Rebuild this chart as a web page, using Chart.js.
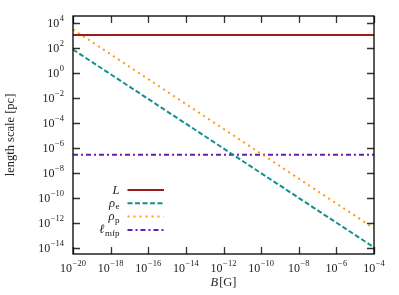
<!DOCTYPE html>
<html>
<head>
<meta charset="utf-8">
<script src="https://cdn.jsdelivr.net/npm/chart.js@4"></script>
<style>
  body { margin: 0; background: #fff; }
  #wrap { width: 399px; height: 295px; }
</style>
</head>
<body>
<div id="wrap"><canvas id="chart" width="399" height="295"></canvas></div>
<script>
// values (log-log, B in gauss, lengths in pc)
const bField = [1e-20, 1e-4];
const scaleL = [1.1e3, 1.1e3];
const rhoE = [75, 1.2e-14];
const rhoP = [3000, 4e-13];
const mfp = [3e-7, 3e-7];
const xTickExps = [-20, -18, -16, -14, -12, -10, -8, -6, -4];
const yTickExps = [4, 2, 0, -2, -4, -6, -8, -10, -12, -14];

const SERIF = '"Liberation Serif", "DejaVu Serif", serif';

const series = [
  { name: 'L', sub: '', values: scaleL, color: '#9b1c1c', dash: [] },
  { name: 'ρ', sub: 'e', values: rhoE, color: '#14908e', dash: [5, 2.5] },
  { name: 'ρ', sub: 'p', values: rhoP, color: '#ff9a14', dash: [2, 4] },
  { name: 'ℓ', sub: 'mfp', values: mfp, color: '#6a1cb4', dash: [5, 3, 2, 3] },
];

const toPoints = (vals) => bField.map((b, i) => ({ x: b, y: vals[i] }));

const drawPow = (ctx, exp, x, y, align) => {
  const base = '10';
  const sup = exp < 0 ? '\u2212' + Math.abs(exp) : String(exp);
  ctx.font = `12px ${SERIF}`;
  const wb = ctx.measureText(base).width;
  ctx.font = `8.5px ${SERIF}`;
  const ws = ctx.measureText(sup).width;
  const total = wb + ws + 0.5;
  let left = x;
  if (align === 'center') left = x - total / 2;
  if (align === 'right') left = x - total;
  ctx.textAlign = 'left';
  ctx.textBaseline = 'alphabetic';
  ctx.font = `12px ${SERIF}`;
  ctx.fillText(base, left, y);
  ctx.font = `8.5px ${SERIF}`;
  ctx.fillText(sup, left + wb + 0.5, y - 6);
};

const decorations = {
  id: 'decorations',
  afterDraw(chart) {
    const { ctx, chartArea: a, scales } = chart;
    const tick = 7;
    ctx.save();
    ctx.fillStyle = '#222';

    // tick marks, inward on all four sides
    ctx.strokeStyle = '#333';
    ctx.lineWidth = 1.3;
    ctx.beginPath();
    xTickExps.forEach((e) => {
      const px = Math.round(scales.x.getPixelForValue(10 ** e)) + 0.5;
      ctx.moveTo(px, a.bottom); ctx.lineTo(px, a.bottom - tick);
      ctx.moveTo(px, a.top); ctx.lineTo(px, a.top + tick);
    });
    yTickExps.forEach((e) => {
      const py = Math.round(scales.y.getPixelForValue(10 ** e)) + 0.5;
      ctx.moveTo(a.left, py); ctx.lineTo(a.left + tick, py);
      ctx.moveTo(a.right, py); ctx.lineTo(a.right - tick, py);
    });
    ctx.stroke();

    // frame
    ctx.strokeStyle = '#000';
    ctx.lineWidth = 1.3;
    ctx.strokeRect(a.left, a.top, a.right - a.left, a.bottom - a.top);

    // tick labels
    xTickExps.forEach((e) => {
      drawPow(ctx, e, scales.x.getPixelForValue(10 ** e), a.bottom + 17.5, 'center');
    });
    yTickExps.forEach((e) => {
      drawPow(ctx, e, a.left - 9, scales.y.getPixelForValue(10 ** e) + 4, 'right');
    });

    // axis titles
    ctx.font = `12.5px ${SERIF}`;
    ctx.textAlign = 'center';
    ctx.textBaseline = 'middle';
    ctx.save();
    ctx.translate(11, (a.top + a.bottom) / 2);
    ctx.rotate(-Math.PI / 2);
    ctx.fillText('length scale [pc]', 0, 0);
    ctx.restore();

    const cx = (a.left + a.right) / 2;
    ctx.textBaseline = 'alphabetic';
    ctx.textAlign = 'left';
    ctx.font = `italic 12.5px ${SERIF}`;
    const wB = ctx.measureText('B').width;
    ctx.font = `12.5px ${SERIF}`;
    const wG = ctx.measureText('[G]').width;
    const bx = cx - (wB + wG + 1) / 2;
    ctx.font = `italic 12.5px ${SERIF}`;
    ctx.fillText('B', bx, 286);
    ctx.font = `12.5px ${SERIF}`;
    ctx.fillText('[G]', bx + wB + 1, 286);

    // legend
    const textRight = a.left + 46.5;
    const x0 = a.left + 54.5;
    const x1 = a.left + 91;
    series.forEach((s, i) => {
      const y = a.top + 173.5 + i * 13.3;
      ctx.font = `9px ${SERIF}`;
      const wsub = s.sub ? ctx.measureText(s.sub).width : 0;
      ctx.font = `italic 12.5px ${SERIF}`;
      const wn = ctx.measureText(s.name).width;
      const left = textRight - wn - wsub - (s.sub ? 0.5 : 0);
      ctx.fillStyle = '#222';
      ctx.textAlign = 'left';
      ctx.fillText(s.name, left, y + 4);
      if (s.sub) {
        ctx.font = `9px ${SERIF}`;
        ctx.fillText(s.sub, left + wn + 0.5, y + 6.5);
      }
      ctx.strokeStyle = s.color;
      ctx.lineWidth = 2;
      ctx.setLineDash(s.dash);
      ctx.beginPath();
      ctx.moveTo(x0, y + 0.5);
      ctx.lineTo(x1, y + 0.5);
      ctx.stroke();
      ctx.setLineDash([]);
    });

    ctx.restore();
  },
};

const main = () => {
  const canvas = document.getElementById('chart');
  const datasets = series.map((s) => ({
    label: s.name + s.sub,
    data: toPoints(s.values),
    borderColor: s.color,
    borderWidth: 2,
    borderDash: s.dash,
    pointRadius: 0,
    fill: false,
    tension: 0,
  }));

  new Chart(canvas, {
    type: 'line',
    data: { datasets },
    options: {
      responsive: false,
      animation: false,
      layout: { padding: { left: 73, top: 16, right: 25, bottom: 41 } },
      scales: {
        x: { type: 'logarithmic', min: 1e-20, max: 1e-4, display: false },
        y: { type: 'logarithmic', min: 10 ** -14.45, max: 10 ** 4.55, display: false },
      },
      plugins: { legend: { display: false }, tooltip: { enabled: false } },
    },
    plugins: [decorations],
  });
};

main();
</script>
</body>
</html>
